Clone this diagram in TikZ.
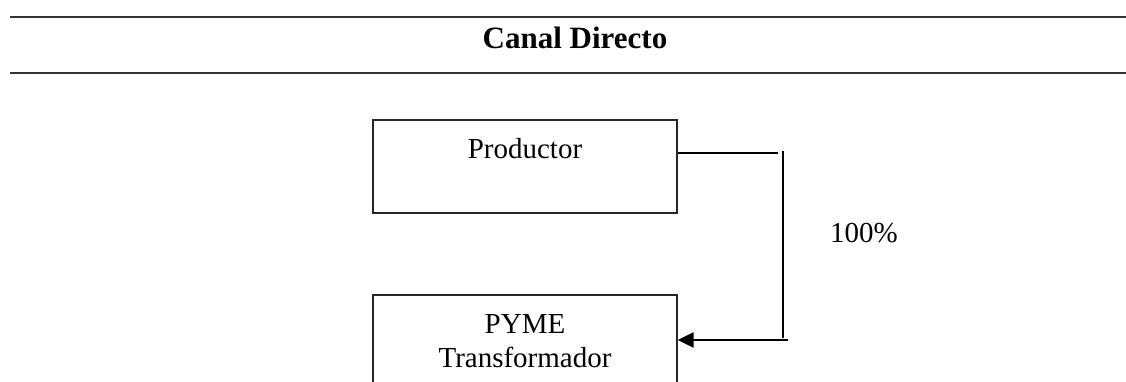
\documentclass[tikz,border=0pt]{standalone}
\usepackage{fontspec}
\setmainfont{Liberation Serif}
\usetikzlibrary{arrows.meta}
\begin{document}
\begin{tikzpicture}[x=0.5pt,y=-0.5pt,
  boxstyle/.style={draw=black!85,line width=0.65pt,rectangle,inner sep=0pt,minimum width=152pt},
  txt/.style={font=\fontsize{14.5pt}{17pt}\selectfont,inner sep=0pt,anchor=base},
  rule/.style={draw=black!80,line width=1pt},
  conn/.style={draw=black,line width=0.6pt},
  arr/.style={draw=black,line width=1.3pt,-{Triangle[length=8pt,width=7.5pt]}}]
\useasboundingbox (0,0) rectangle (1126,381);
\clip (0,0) rectangle (1126,381);
% header rules and title
\coordinate (r1a) at (10,17);
\coordinate (r1b) at (1126,17);
\coordinate (r2a) at (10,73);
\coordinate (r2b) at (1126,73);
\draw[rule] (r1a) -- (r1b);
\draw[rule] (r2a) -- (r2b);
\node[txt,font=\fontsize{15.5pt}{18pt}\selectfont\bfseries] (title) at (575,48) {Canal Directo};
% boxes
\node[boxstyle,minimum height=46.5pt] (prod) at (525,166.5) {};
\node[txt] (prodtxt) at (525,158) {Productor};
\node[boxstyle,minimum height=60pt] (pyme) at (525,355) {};
\node[txt] (pymetxt) at (525,333) {PYME};
\node[txt] (transtxt) at (525,367) {Transformador};
% connector
\coordinate (c1) at (778,153);
\coordinate (v1) at (783,151);
\coordinate (v2) at (783,338);
\coordinate (h1) at (788,340);
\draw[conn] (prod.east |- c1) -- (c1);
\draw[conn] (v1) -- (v2);
\draw[arr] (h1) -- (pyme.east |- h1);
\node[txt] (pct) at (864,242) {100\%};
\end{tikzpicture}
\end{document}
